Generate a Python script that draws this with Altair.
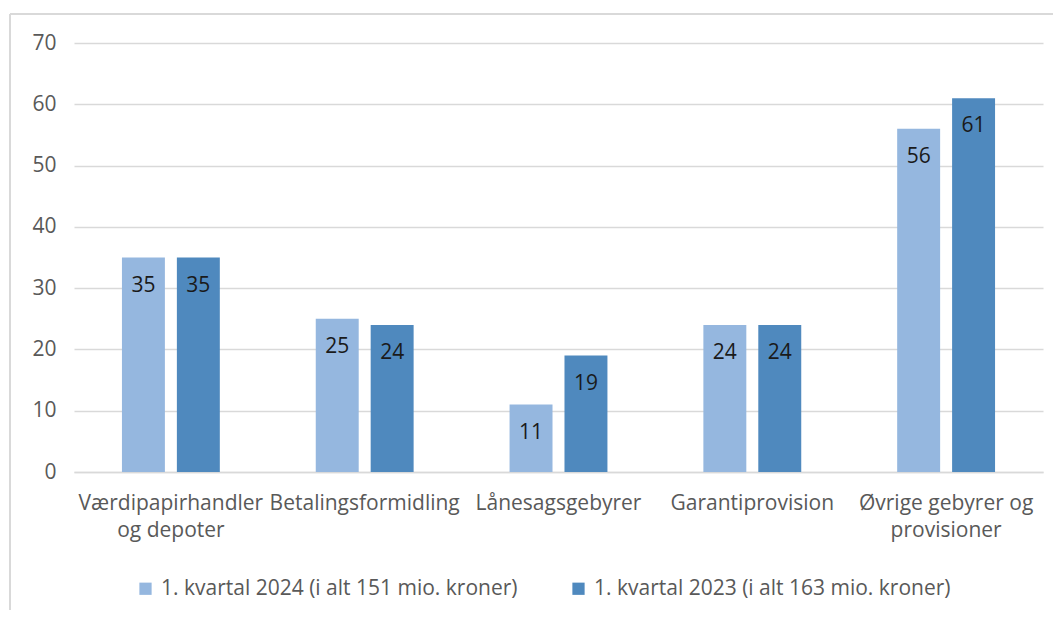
import altair as alt
import pandas as pd

categories = ["Værdipapirhandler\nog depoter", "Betalingsformidling", "Lånesagsgebyrer",
              "Garantiprovision", "Øvrige gebyrer og\nprovisioner"]
series = ["1. kvartal 2024 (i alt 151 mio. kroner)", "1. kvartal 2023 (i alt 163 mio. kroner)"]
values_2024 = [35, 25, 11, 24, 56]
values_2023 = [35, 24, 19, 24, 61]
colors = ["#95B7DF", "#4F89BE"]

rows = []
for c, a, b in zip(categories, values_2024, values_2023):
    rows.append({"kategori": c, "serie": series[0], "værdi": a})
    rows.append({"kategori": c, "serie": series[1], "værdi": b})
df = pd.DataFrame(rows)

FONT = "Open Sans"
GRAY = "#595959"
FS = 21

x = alt.X("kategori:N", sort=categories,
          scale=alt.Scale(paddingInner=0.495, paddingOuter=0.2474),
          axis=alt.Axis(title=None, labelAngle=0, labelExpr="split(datum.label, '\\n')",
                        labelFontSize=FS, labelColor=GRAY, labelFont=FONT,
                        labelPadding=20, labelLineHeight=27, ticks=False,
                        domainColor="#D9D9D9", domainWidth=1.5, labelLimit=300))
xo = alt.XOffset("serie:N", sort=series,
                 scale=alt.Scale(paddingInner=0.218, paddingOuter=0))
y = alt.Y("værdi:Q", scale=alt.Scale(domain=[0, 70]),
          axis=alt.Axis(title=None, values=[0, 10, 20, 30, 40, 50, 60, 70],
                        labelFontSize=FS, labelColor=GRAY, labelFont=FONT,
                        labelPadding=18, ticks=False, domain=False,
                        gridColor="#D9D9D9", gridWidth=1.5))

bars = alt.Chart(df).mark_bar().encode(
    x=x, xOffset=xo, y=y,
    color=alt.Color("serie:N", sort=series,
                    scale=alt.Scale(domain=series, range=colors),
                    legend=alt.Legend(title=None, orient="none", legendX=61, legendY=535,
                                      direction="horizontal", symbolType="square",
                                      symbolSize=150, symbolStrokeWidth=0,
                                      labelFontSize=FS, labelColor=GRAY, labelFont=FONT,
                                      labelOffset=5, columnPadding=50, labelLimit=500)),
)

labels = alt.Chart(df).mark_text(baseline="middle", dy=28, fontSize=FS, font=FONT,
                                 color="#1a1a1a").encode(
    x=alt.X("kategori:N", sort=categories), xOffset=alt.XOffset("serie:N", sort=series),
    y="værdi:Q", text="værdi:Q")

border_data = alt.Data(values=[{"k": 1}])
left_border = alt.Chart(border_data).mark_rule(color="#D9D9D9", strokeWidth=2).encode(
    x=alt.value(-64), y=alt.value(-29), y2=alt.value(567))
top_border = alt.Chart(border_data).mark_rule(color="#D9D9D9", strokeWidth=2).encode(
    x=alt.value(-64), x2=alt.value(979), y=alt.value(-29))

chart = alt.layer(left_border, top_border, bars, labels).properties(
    width=969, height=429,
    padding={"left": 1, "top": 5, "right": 0, "bottom": 0},
).configure_view(stroke=None).configure_legend(symbolStrokeWidth=0)

chart.save("out.html", embed_options={"renderer": "svg", "actions": False})
